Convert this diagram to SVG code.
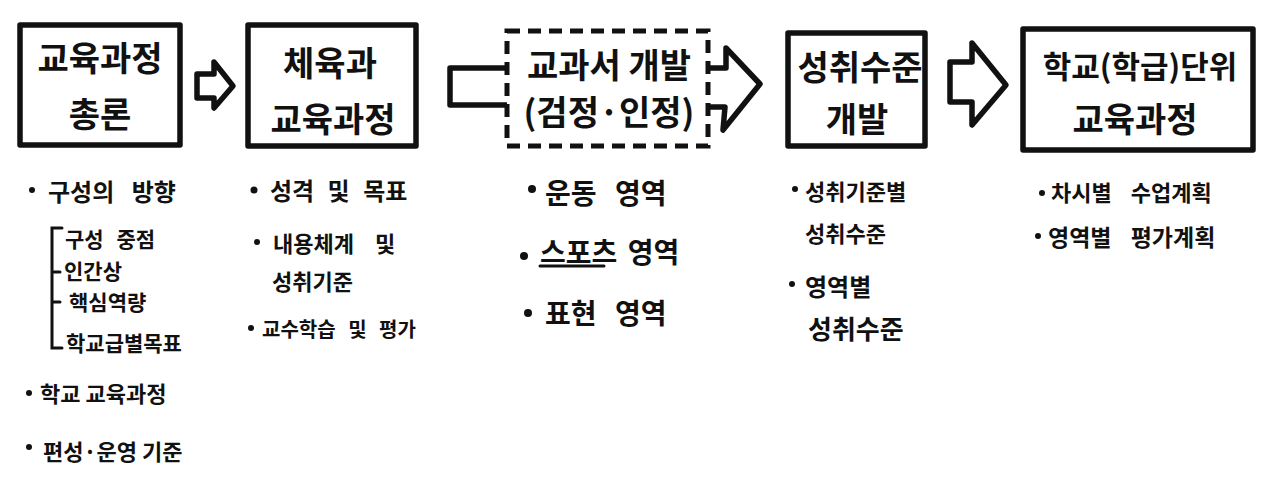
<svg xmlns="http://www.w3.org/2000/svg" width="1280" height="494" viewBox="0 0 1280 494">
<style>
text{font-family:"Noto Sans CJK KR","Noto Sans",sans-serif;font-weight:700;fill:#111;dominant-baseline:central}
.box{fill:#fff;stroke:#111;stroke-width:5.5;stroke-linejoin:round;stroke-linecap:round}
.dash{fill:#fff;stroke:#111;stroke-width:5;stroke-dasharray:13 8}
.arr{fill:#fff;stroke:#111;stroke-width:5.5;stroke-linejoin:round;stroke-linecap:round}
.t{font-size:34px;text-anchor:middle}
.b{font-size:24px}
.s{font-size:21px}
.l{font-size:28px;word-spacing:12px}
.w{word-spacing:8px}
.ln{fill:none;stroke:#111;stroke-width:3;stroke-linecap:round}
.dot{fill:#111}
</style>
<rect width="1280" height="494" fill="#fff"/>
<g id="connectors">
<path class="arr" d="M197,74 L214,74 L214,62 L233,86 L214,108 L214,98 L197,98 Z"/>
<path class="arr" d="M507,68 L450,68 L450,105 L507,105 M709,68 L726,68 L726,48 L760,84 L723,130 L725,107 L709,107"/>
<path class="arr" d="M950,62 L972,62 L972,43 L1006,85 L972,125 L972,102 L950,102 Z"/>
</g>
<g id="node1">
<rect class="box" x="20" y="25" width="160" height="120"/>
<text class="t" x="100" y="56">교육과정</text>
<text class="t" x="100" y="112">총론</text>
</g>
<g id="node2">
<rect class="box" x="248" y="25" width="168" height="121"/>
<text class="t" x="330" y="61">체육과</text>
<text class="t" x="333" y="117">교육과정</text>
</g>
<g id="node3">
<rect class="dash" x="507" y="31" width="201" height="115"/>
<text class="t" x="609" y="63">교과서 개발</text>
<text class="t" x="609" y="110">(검정·인정)</text>
</g>
<g id="node4">
<rect class="box" x="788" y="33" width="137" height="113"/>
<text class="t" x="860" y="65">성취수준</text>
<text class="t" x="857" y="117">개발</text>
</g>
<g id="node5">
<rect class="box" x="1023" y="29" width="230" height="121"/>
<text class="t" x="1140" y="64" style="font-size:31px">학교(학급)단위</text>
<text class="t" x="1135" y="117">교육과정</text>
</g>
<g id="list1">
<circle class="dot" cx="32" cy="190" r="3"/>
<text class="b w" x="48" y="190" style="word-spacing:12px">구성의 방향</text>
<path class="ln" d="M62,228 L52,228 L52,348 L62,348 M52,272 L60,272 M52,302 L60,302"/>
<text class="s w" x="65" y="238">구성 중점</text>
<text class="s" x="64" y="270">인간상</text>
<text class="s" x="69" y="301">핵심역량</text>
<text class="s" x="66" y="342">학교급별목표</text>
<circle class="dot" cx="29" cy="393" r="3"/>
<text class="s" x="40" y="392" style="font-size:22px">학교 교육과정</text>
<circle class="dot" cx="29" cy="447" r="3"/>
<text class="s" x="43" y="450" style="font-size:22px">편성·운영 기준</text>
</g>
<g id="list2">
<circle class="dot" cx="254" cy="190" r="3.5"/>
<text class="b w" x="270" y="189">성격 및 목표</text>
<circle class="dot" cx="257" cy="242" r="3"/>
<text class="s" x="273" y="242" style="font-size:22px;word-spacing:16px">내용체계 및</text>
<text class="s" x="272" y="280" style="font-size:22px">성취기준</text>
<circle class="dot" cx="251" cy="328" r="3"/>
<text class="s w" x="262" y="328" style="font-size:20px">교수학습 및 평가</text>
</g>
<g id="list3">
<circle class="dot" cx="532" cy="189" r="4"/>
<text class="l" x="545" y="192">운동 영역</text>
<circle class="dot" cx="524" cy="256" r="4"/>
<text class="l" x="540" y="251" style="word-spacing:4px">스포츠 영역</text>
<path class="ln" d="M540,266 L604,266"/>
<circle class="dot" cx="528" cy="313" r="4"/>
<text class="l" x="545" y="312">표현 영역</text>
</g>
<g id="list4">
<circle class="dot" cx="795" cy="189" r="3"/>
<text class="s" x="805" y="190" style="font-size:22px">성취기준별</text>
<text class="s" x="805" y="232" style="font-size:22px">성취수준</text>
<circle class="dot" cx="792" cy="284" r="3"/>
<text class="b" x="805" y="285">영역별</text>
<text class="b" x="808" y="327" style="font-size:26px">성취수준</text>
</g>
<g id="list5">
<circle class="dot" cx="1042" cy="193" r="3"/>
<text class="s" x="1051" y="191" style="font-size:22px;word-spacing:14px">차시별 수업계획</text>
<circle class="dot" cx="1038" cy="236" r="3"/>
<text class="s" x="1048" y="236" style="font-size:23px;word-spacing:14px">영역별 평가계획</text>
</g>
</svg>
